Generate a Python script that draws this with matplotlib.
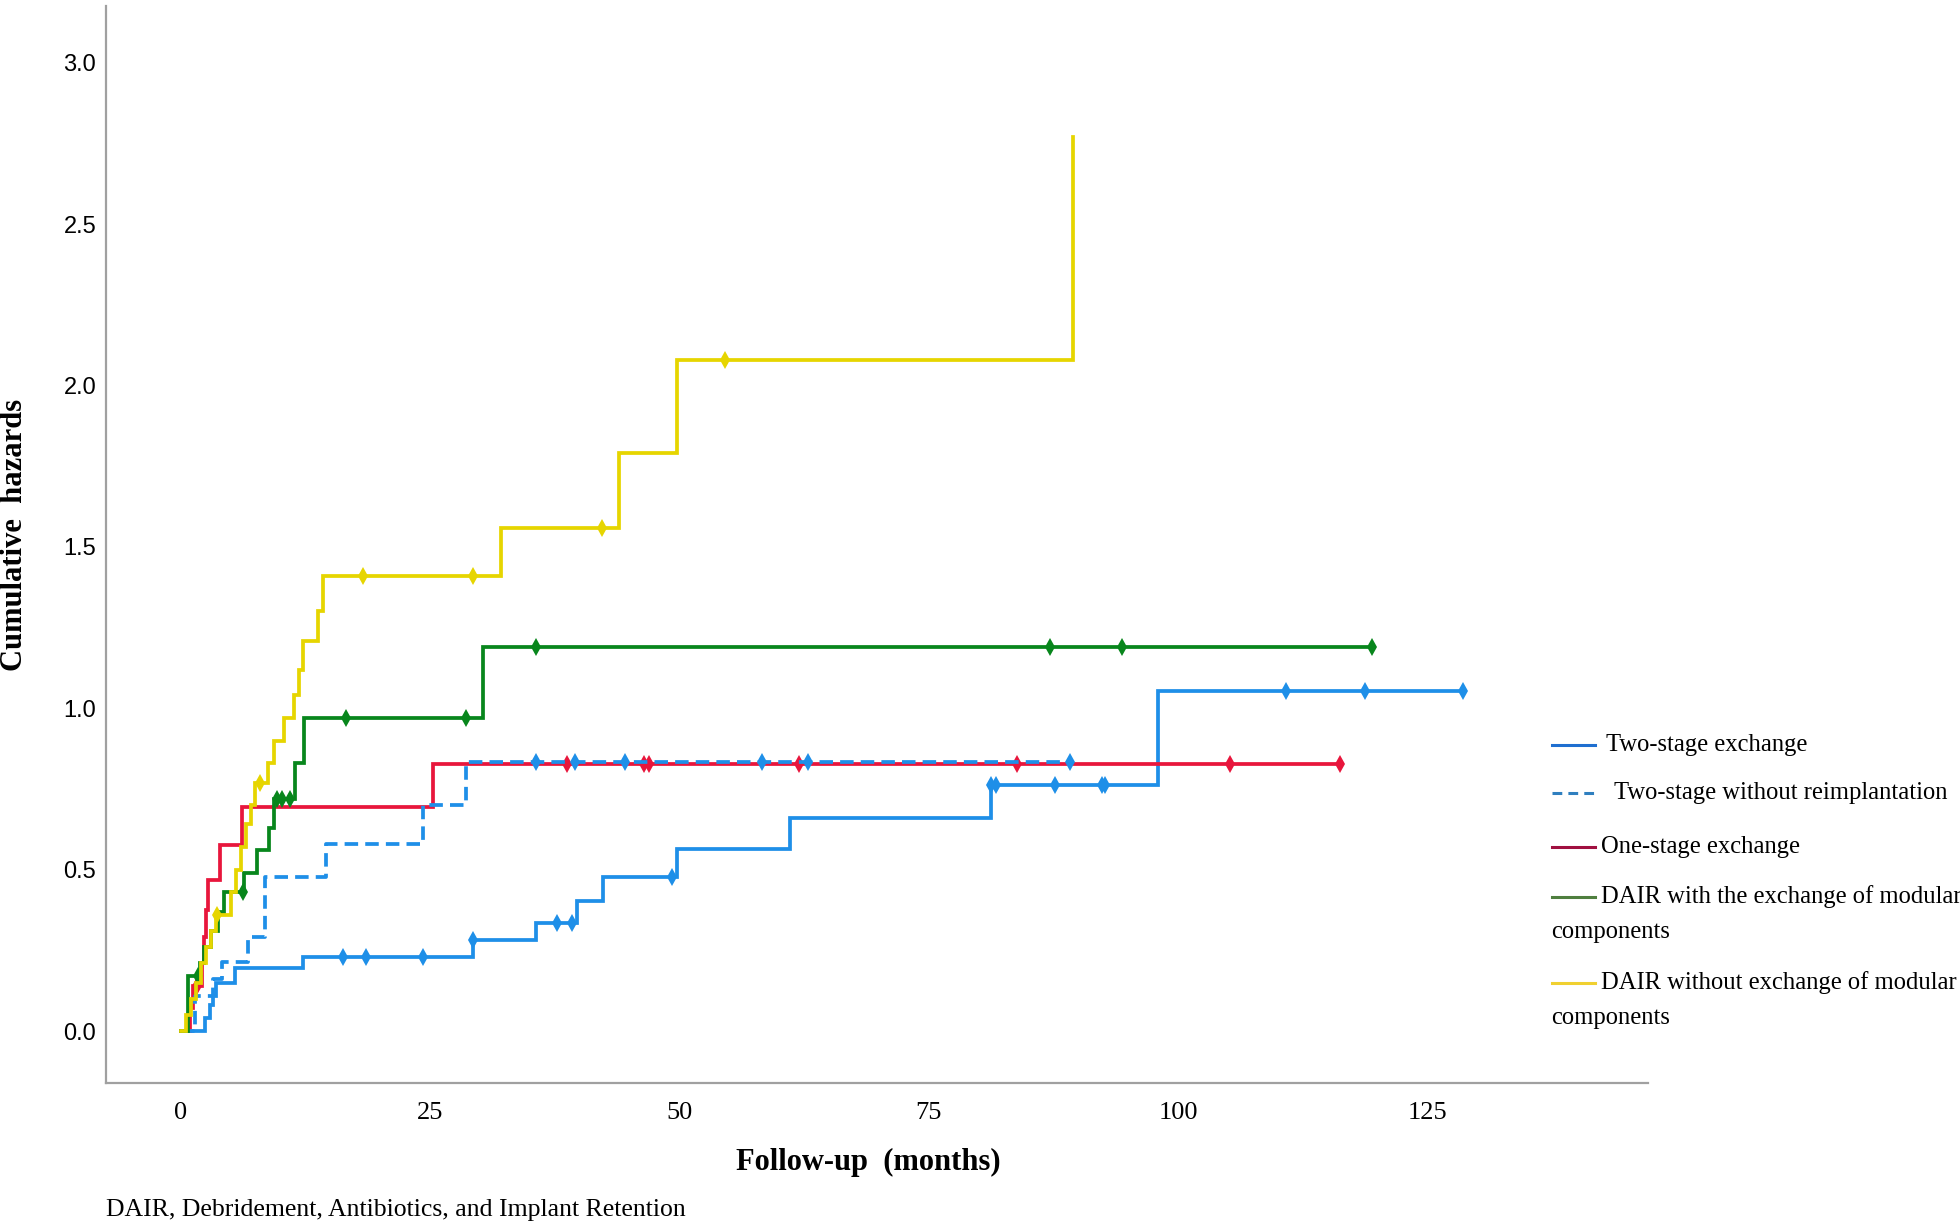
import matplotlib
matplotlib.use("Agg")
import matplotlib.pyplot as plt
from matplotlib.lines import Line2D
import numpy as np

# event times (months) and cumulative hazard after each event; censor times
two_stage_t = [0, 2.4, 2.9, 3.2, 3.5, 5.4, 12.3, 29.3, 35.6, 39.7, 42.3, 49.7, 61.1, 81.2, 98.0]
two_stage_h = [0, 0.04, 0.08, 0.11, 0.148, 0.194, 0.23, 0.282, 0.334, 0.404, 0.478, 0.563, 0.659, 0.762, 1.055]
two_stage_cens = [16.3, 18.6, 24.3, 29.3, 37.7, 39.2, 49.2, 81.2, 81.7, 87.6, 92.4, 92.7, 110.8, 118.7, 128.6]

no_reimp_t = [0, 1.4, 3.2, 4.1, 6.75, 8.4, 14.6, 24.3, 28.6]
no_reimp_h = [0, 0.11, 0.16, 0.215, 0.29, 0.478, 0.58, 0.70, 0.834]
no_reimp_cens = [35.6, 39.5, 44.5, 58.3, 62.9, 89.1]

one_stage_t = [0, 0.9, 1.2, 2.1, 2.3, 2.5, 2.7, 3.9, 6.1, 25.3]
one_stage_h = [0, 0.07, 0.14, 0.21, 0.29, 0.375, 0.468, 0.576, 0.695, 0.827]
one_stage_cens = [1.6, 38.7, 46.4, 46.9, 62.0, 83.8, 105.2, 116.2]

dair_mod_t = [0, 0.7, 1.9, 2.3, 3.0, 3.7, 4.3, 6.3, 7.6, 8.8, 9.3, 11.4, 12.4, 30.3]
dair_mod_h = [0, 0.17, 0.21, 0.26, 0.31, 0.37, 0.43, 0.49, 0.56, 0.63, 0.72, 0.83, 0.97, 1.19]
dair_mod_cens = [1.7, 6.2, 9.6, 10.1, 10.9, 16.6, 28.6, 35.6, 87.1, 94.4, 119.4]

dair_nomod_t = [0, 0.5, 1.0, 1.5, 2.0, 2.5, 3.0, 3.5, 5.0, 5.5, 6.0, 6.5, 7.0, 7.4, 8.7, 9.3,
                10.3, 11.3, 11.8, 12.3, 13.8, 14.3, 32.1, 43.9, 49.7, 89.5]
dair_nomod_h = [0, 0.05, 0.10, 0.15, 0.21, 0.26, 0.31, 0.36, 0.43, 0.50, 0.57, 0.64, 0.70, 0.77, 0.83, 0.90,
                0.97, 1.04, 1.12, 1.21, 1.30, 1.41, 1.56, 1.79, 2.08, 2.77]
dair_nomod_cens = [3.6, 7.9, 18.3, 29.3, 42.2, 54.6]

labels = ["Two-stage exchange", "Two-stage without reimplantation", "One-stage exchange",
          "DAIR with the exchange of modular\ncomponents", "DAIR without exchange of modular\ncomponents"]

fig = plt.figure(figsize=(19.6, 12.3), dpi=100)
W, H = 1960, 1230
ax = fig.add_axes([106 / W, 1 - 1083 / H, (1648 - 106) / W, (1083 - 6) / H])


def draw(t, h, cens, color, ls="-", lw=2.7):
    t = np.asarray(t, float)
    h = np.asarray(h, float)
    cens = np.asarray(cens, float)
    end = max(t[-1], cens.max())
    tt = np.append(t, end)
    hh = np.append(h, h[-1])
    ax.step(tt, hh, where="post", color=color, ls=ls, lw=lw, solid_joinstyle="miter")
    idx = np.searchsorted(t, cens, side="right") - 1
    ax.plot(cens, h[idx], ls="none", marker="d", ms=9, mew=0, color=color)


draw(two_stage_t, two_stage_h, two_stage_cens, "#1E8FE8")
draw(one_stage_t, one_stage_h, one_stage_cens, "#E8163C")
draw(no_reimp_t, no_reimp_h, no_reimp_cens, "#1E8FE8", ls=(0, (3.6, 1.9)))
draw(dair_mod_t, dair_mod_h, dair_mod_cens, "#08861C")
draw(dair_nomod_t, dair_nomod_h, dair_nomod_cens, "#E6D500")

ax.set_xlim(-7.5, 147.1)
ax.set_ylim(-0.161, 3.176)
ax.set_xticks([0, 25, 50, 75, 100, 125])
ax.set_yticks([0, 0.5, 1.0, 1.5, 2.0, 2.5, 3.0])
ax.set_yticklabels(["0.0", "0.5", "1.0", "1.5", "2.0", "2.5", "3.0"])
ax.tick_params(length=0)
ax.tick_params(axis="x", pad=14)
ax.tick_params(axis="y", pad=7)
for lab in ax.get_xticklabels():
    lab.set_fontfamily("Liberation Serif")
    lab.set_fontsize(19)
for lab in ax.get_yticklabels():
    lab.set_fontfamily("Liberation Sans")
    lab.set_fontsize(17)
for s in ["top", "right"]:
    ax.spines[s].set_visible(False)
for s in ["left", "bottom"]:
    ax.spines[s].set_color("#A0A0A0")
    ax.spines[s].set_linewidth(1.6)

ax.set_xlabel("Follow-up  (months)", family="Liberation Serif", weight="bold", fontsize=22)
ax.xaxis.set_label_coords((868 - 106) / 1542, (1083 - 1162) / 1077)
ax.xaxis.label.set_va("center")
ax.set_ylabel("Cumulative  hazards", family="Liberation Serif", weight="bold", fontsize=22)
ax.yaxis.set_label_coords((15 - 106) / 1542, (1083 - 535) / 1077)
ax.yaxis.label.set_va("center")

fig.text(106 / W, 1 - 1210 / H, "DAIR, Debridement, Antibiotics, and Implant Retention",
         family="Liberation Serif", fontsize=18.5, va="center", ha="left")

# legend drawn by hand, as in the original layout
leg_colors = ["#1F6FD0", "#2F7FBF", "#A01040", "#4F7F3F", "#F0D030"]
leg_styles = ["-", (0, (3.2, 2.0)), "-", "-", "-"]
leg_y = [745, 793, 847, 897, 983]
leg_tx = [1606, 1614, 1601, 1601, 1601]
for lab, c, ls, y, tx in zip(labels, leg_colors, leg_styles, leg_y, leg_tx):
    fy = 1 - y / H
    fig.add_artist(Line2D([1552 / W, 1595 / W], [fy, fy], color=c, ls=ls, lw=2.2))
    first, *rest = lab.split("\n")
    fig.text(tx / W, fy, first, family="Liberation Serif", fontsize=17.7, va="center", ha="left")
    if rest:
        fig.text(1551 / W, 1 - (y + 35) / H, rest[0], family="Liberation Serif", fontsize=17.7,
                 va="center", ha="left")

fig.savefig("out.png", dpi=100)
